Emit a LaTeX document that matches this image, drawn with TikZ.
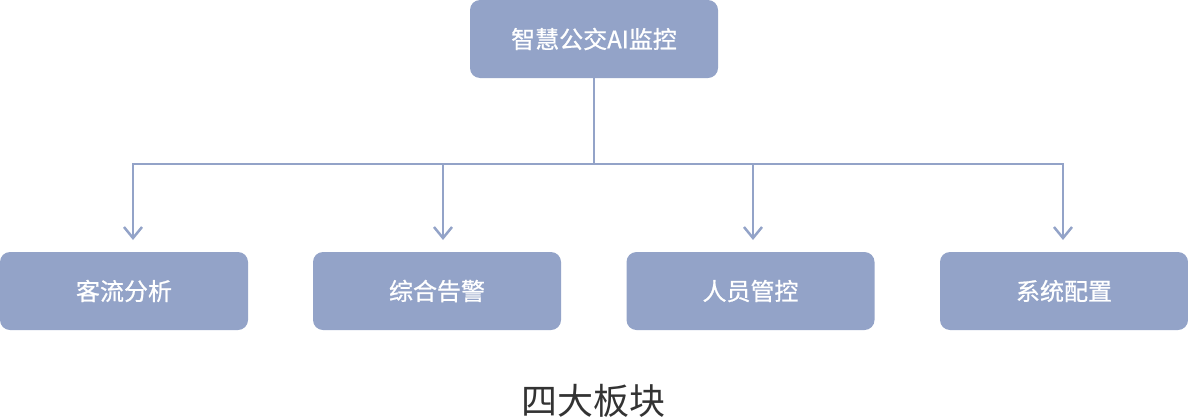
\documentclass[tikz,border=0pt]{standalone}
\usepackage{fontspec}
\setmainfont{Noto Sans CJK SC}
\newfontfamily\boxfont[FakeBold=0.8]{Noto Sans CJK SC}
\usetikzlibrary{arrows.meta}
\definecolor{boxblue}{RGB}{147,163,200}
\definecolor{darktext}{RGB}{51,51,51}
\tikzset{
  blk/.style={rectangle, rounded corners=10pt, fill=boxblue, draw=none,
    minimum width=248pt, minimum height=78pt, inner sep=0pt,
    text=white, font=\boxfont\fontsize{24}{28}\selectfont},
  arr/.style={draw=boxblue, line width=2.5pt,
    -{Straight Barb[length=11pt,width=18pt]}},
  conn/.style={draw=boxblue, line width=2.5pt}
}
\begin{document}
\begin{tikzpicture}[x=1pt,y=-1pt]
\useasboundingbox (0,0) rectangle (1188,418);
\node[blk] (top) at (594,39) {智慧公交AI监控};
\node[blk] (b1) at (124,291) {客流分析};
\node[blk] (b2) at (437,291) {综合告警};
\node[blk] (b3) at (750.5,291) {人员管控};
\node[blk] (b4) at (1064,291) {系统配置};
\coordinate (hub) at (594,164);
\coordinate (t1) at (133,240);
\coordinate (t2) at (443,240);
\coordinate (t3) at (753,240);
\coordinate (t4) at (1063,240);
\draw[conn] (top.south) -- (hub);
\draw[arr] (hub) -| (t1);
\draw[arr] (hub) -| (t2);
\draw[arr] (hub) -| (t3);
\draw[arr] (hub) -| (t4);
\node[text=darktext, font=\fontsize{36}{42}\selectfont, inner sep=0pt] (title) at (593.5,401) {四大板块};
\end{tikzpicture}
\end{document}
